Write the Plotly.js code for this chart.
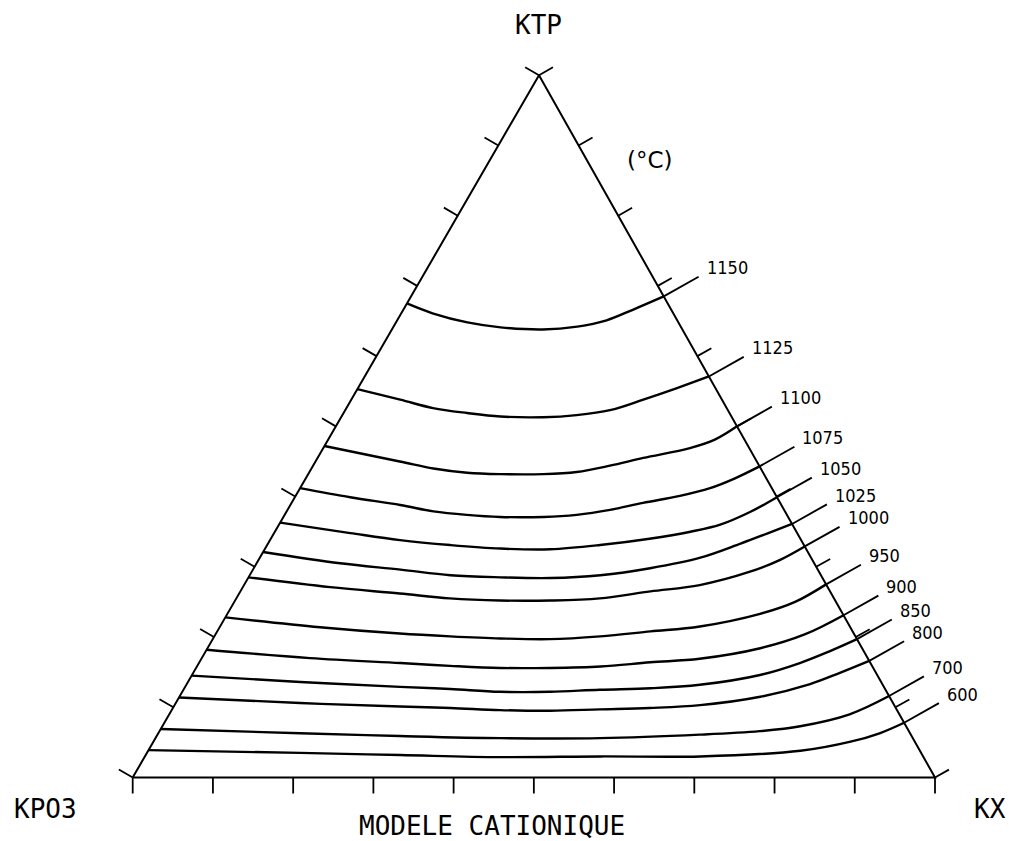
<!DOCTYPE html>
<html>
<head>
<meta charset="utf-8">
<script src="https://cdn.plot.ly/plotly-3.0.1.min.js"></script>
<style>html,body{margin:0;padding:0;background:#fff;}</style>
</head>
<body>
<div id="chart" style="width:1009px;height:841px;"></div>
<script>
// ---- DATA: ternary compositions in % (KTP = apex, KPO3 = bottom-left, KX = bottom-right) ----
const vertexLabels = ["KTP", "KPO3", "KX"];
const tickValues = [0, 10, 20, 30, 40, 50, 60, 70, 80, 90, 100];
const isothermTemps = [1150, 1125, 1100, 1075, 1050, 1025, 1000, 950, 900, 850, 800, 700, 600];

const ktp1150 = [67.5, 66.1, 64.8, 64.1, 63.8, 64.2, 65.1, 66.6, 68.5];
const kx1150  = [0, 3.9, 8.9, 13.4, 18.8, 22.9, 26.1, 28.6, 31.5];
const ktp1125 = [55.3, 53.8, 52.6, 51.9, 51.4, 51.3, 51.6, 52.3, 53.8, 55.4, 57.1];
const kx1125  = [0, 6.1, 10.8, 15.4, 19.8, 25.2, 29.2, 33.0, 36.4, 39.7, 42.9];
const ktp1100 = [47.2, 45.0, 44.0, 43.4, 43.2, 43.2, 43.5, 44.4, 45.5, 46.9, 48.1, 50.0];
const kx1100  = [0, 10.5, 15.2, 19.7, 23.9, 29.3, 33.3, 37.0, 40.6, 45.7, 48.2, 50.0];
const ktp1075 = [41.2, 39.9, 38.8, 37.9, 37.4, 37.1, 37.1, 37.4, 38.1, 39.1, 40.1, 41.2, 42.6, 44.3];
const kx1075  = [0, 6.9, 13.7, 18.3, 22.7, 27.0, 32.4, 36.4, 40.2, 43.8, 47.9, 51.1, 53.5, 55.7];
const ktp1050 = [36.3, 34.8, 33.8, 33.1, 32.6, 32.5, 33.1, 34.0, 35.0, 36.0, 37.8, 39.9];
const kx1050  = [0, 9.5, 16.2, 22.8, 29.3, 35.6, 41.5, 47.2, 51.8, 55.0, 57.8, 60.1];
const ktp1025 = [32.1, 30.5, 29.6, 28.8, 28.5, 28.4, 28.8, 29.8, 31.3, 33.3, 34.8, 36.1];
const kx1025  = [0, 10.4, 18.4, 25.0, 31.4, 37.7, 43.7, 49.4, 54.9, 58.9, 61.6, 63.9];
const ktp1000 = [28.5, 27.1, 26.2, 25.5, 25.2, 25.2, 25.5, 26.5, 27.4, 29.3, 31.0, 32.9];
const kx1000  = [0, 10.9, 20.0, 26.6, 33.0, 39.3, 45.3, 51.1, 56.8, 62.1, 65.0, 67.1];
const ktp950  = [22.8, 21.4, 20.5, 20.1, 19.8, 19.7, 20.1, 20.8, 21.5, 23.3, 25.0, 27.5];
const kx950   = [0, 12.5, 22.9, 29.4, 35.8, 42.0, 48.1, 54.0, 59.8, 66.4, 69.9, 72.5];
const ktp900  = [18.2, 17.0, 16.3, 15.9, 15.6, 15.6, 15.8, 16.4, 16.9, 18.4, 20.4, 23.1];
const kx900   = [0, 13.5, 25.1, 31.5, 37.9, 44.1, 50.3, 56.2, 62.1, 68.9, 73.5, 76.9];
const ktp850  = [14.5, 13.6, 12.9, 12.6, 12.2, 12.2, 12.5, 12.7, 13.2, 14.6, 16.3, 18.0, 19.7];
const kx850   = [0, 14.0, 26.8, 33.2, 39.6, 45.8, 51.9, 58.1, 64.0, 70.8, 74.9, 77.8, 80.3];
const ktp800  = [11.4, 10.6, 10.1, 9.9, 9.6, 9.5, 9.7, 9.9, 10.3, 11.5, 13.3, 14.9, 16.6];
const kx800   = [0, 15.5, 28.2, 34.6, 40.9, 47.2, 53.3, 59.4, 65.5, 72.4, 77.7, 80.6, 83.4];
const ktp700  = [6.9, 6.3, 5.9, 5.6, 5.6, 6.1, 6.6, 7.3, 9.0, 11.6];
const kx700   = [0, 17.7, 30.3, 43.0, 55.4, 67.6, 74.8, 79.5, 84.8, 88.4];
const ktp600  = [3.9, 3.5, 3.2, 2.9, 3.0, 3.0, 3.8, 5.1, 6.3, 7.8];
const kx600   = [0, 19.1, 31.7, 44.3, 56.8, 69.2, 81.3, 86.9, 89.9, 92.2];

const isoKTP = [ktp1150, ktp1125, ktp1100, ktp1075, ktp1050, ktp1025, ktp1000, ktp950, ktp900, ktp850, ktp800, ktp700, ktp600];
const isoKX  = [kx1150, kx1125, kx1100, kx1075, kx1050, kx1025, kx1000, kx950, kx900, kx850, kx800, kx700, kx600];

// ---- GEOMETRY (layout only) ----
const PXU = 802.3;                 // pixels per plot unit (both axes)
const APEX_DX = 406.3 / PXU;       // apex horizontal offset (unit triangle base = 1)
const APEX_DY = 702.3 / PXU;       // apex height
const ORIGIN_PX = 132.7, BASE_PY = 777.5;
const W = 1009, H = 841;
const TICK = 16 / PXU, LEADER = 40 / PXU;

function xy(ktp, kx) { return [kx / 100 + APEX_DX * ktp / 100, APEX_DY * ktp / 100]; }
function unit(v) { const l = Math.hypot(v[0], v[1]); return [v[0] / l, v[1] / l]; }
const leftDir = unit([APEX_DX, APEX_DY]);
const rightDir = unit([APEX_DX - 1, APEX_DY]);
const nLeft = [-leftDir[1], leftDir[0]];    // outward normal of KPO3-KTP side
const nRight = [rightDir[1], -rightDir[0]]; // outward normal of KX-KTP side
const nBottom = [0, -1];

const BLACK = '#000';
const traces = [];

// Triangle frame
const fB = xy(0, 0), fC = xy(0, 100), fA = xy(100, 0);
traces.push({type: 'scatter', mode: 'lines', x: [fB[0], fC[0], fA[0], fB[0]], y: [fB[1], fC[1], fA[1], fB[1]],
  line: {color: BLACK, width: 2}, hoverinfo: 'skip'});

// Ticks on the three sides
const tx = [], ty = [];
function addTick(p, n, len) { tx.push(p[0], p[0] + n[0] * len, null); ty.push(p[1], p[1] + n[1] * len, null); }
tickValues.forEach(t => {
  addTick(xy(0, t), nBottom, TICK);        // KX scale along base
  addTick(xy(t, 0), nLeft, TICK);          // KTP along left side
  addTick(xy(t, 100 - t), nRight, TICK);   // KTP along right side
});
traces.push({type: 'scatter', mode: 'lines', x: tx, y: ty, line: {color: BLACK, width: 1.8}, hoverinfo: 'skip'});

// Isotherms + leader lines + labels
const annotations = [];
const labelFont = 'Liberation Sans Narrow, DejaVu Sans Condensed, sans-serif';
isothermTemps.forEach((T, i) => {
  const pts = isoKTP[i].map((a, j) => xy(a, isoKX[i][j]));
  traces.push({type: 'scatter', mode: 'lines', name: T + ' °C',
    x: pts.map(p => p[0]), y: pts.map(p => p[1]),
    line: {color: BLACK, width: 2.4, shape: 'spline', smoothing: 1}, hoverinfo: 'name'});
  const end = pts[pts.length - 1];
  const lead = [end[0] + nRight[0] * LEADER, end[1] + nRight[1] * LEADER];
  traces.push({type: 'scatter', mode: 'lines', x: [end[0], lead[0]], y: [end[1], lead[1]],
    line: {color: BLACK, width: 1.9}, hoverinfo: 'skip'});
  annotations.push({x: lead[0], y: lead[1], xref: 'x', yref: 'y', text: String(T), showarrow: false,
    xanchor: 'left', yanchor: 'middle', xshift: 6, yshift: 9,
    font: {family: labelFont, size: 18, color: BLACK}});
});

// Text labels (paper coords; margins are zero so paper == full page)
const mono = 'DejaVu Sans Mono, monospace';
function pp(px, py) { return {x: px / W, y: 1 - py / H}; }
[[vertexLabels[0], 538, 25, 26, mono], [vertexLabels[1], 45, 809, 26, mono], [vertexLabels[2], 990, 809, 26, mono],
 ['MODELE CATIONIQUE', 492, 826, 26, mono], ['(°C)', 650, 160, 23, 'DejaVu Sans, sans-serif']].forEach(([t, px, py, s, f]) => {
  const p = pp(px, py);
  annotations.push({x: p.x, y: p.y, xref: 'paper', yref: 'paper', text: t, showarrow: false,
    xanchor: 'center', yanchor: 'middle', font: {family: f, size: s, color: BLACK}});
});

const layout = {
  width: W, height: H, autosize: false,
  margin: {l: 0, r: 0, t: 0, b: 0, pad: 0},
  paper_bgcolor: '#fff', plot_bgcolor: '#fff',
  showlegend: false,
  xaxis: {range: [-ORIGIN_PX / PXU, (W - ORIGIN_PX) / PXU], visible: false, fixedrange: true},
  yaxis: {range: [-(H - BASE_PY) / PXU, BASE_PY / PXU], visible: false, fixedrange: true},
  annotations: annotations
};
Plotly.newPlot('chart', traces, layout, {displayModeBar: false, staticPlot: true});
</script>
</body>
</html>
